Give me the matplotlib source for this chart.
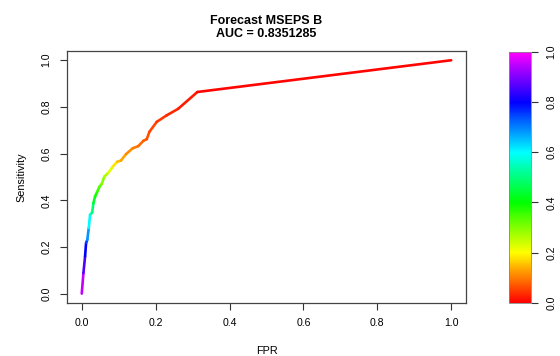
import numpy as np
import matplotlib
matplotlib.use('Agg')
import matplotlib.pyplot as plt
from matplotlib.collections import LineCollection
from matplotlib.colors import ListedColormap, Normalize, hsv_to_rgb
from matplotlib.cm import ScalarMappable

plt.rcParams['font.family'] = ['Liberation Sans', 'DejaVu Sans']

# ROC curve points (false positive rate, true positive rate) and the cutoff at each
fpr = [0.0, 0.0045, 0.009, 0.0117, 0.015, 0.019, 0.0225, 0.028, 0.0315, 0.036,
       0.042, 0.048, 0.054, 0.061, 0.072, 0.084, 0.096, 0.106, 0.12, 0.138,
       0.153, 0.167, 0.176, 0.183, 0.203, 0.23, 0.261, 0.313, 1.0]
tpr = [0.0, 0.088, 0.16, 0.217, 0.231, 0.281, 0.338, 0.347, 0.387, 0.416,
       0.437, 0.458, 0.47, 0.501, 0.518, 0.544, 0.565, 0.57, 0.598, 0.623,
       0.632, 0.655, 0.662, 0.693, 0.736, 0.764, 0.792, 0.864, 1.0]
cutoff = [1.0, 0.9, 0.82, 0.78, 0.72, 0.64, 0.57, 0.52, 0.46, 0.4,
          0.37, 0.34, 0.31, 0.28, 0.25, 0.2, 0.16, 0.14, 0.12, 0.1,
          0.09, 0.08, 0.07, 0.06, 0.05, 0.04, 0.03, 0.01, 0.0]
ticks = [0.0, 0.2, 0.4, 0.6, 0.8, 1.0]
title = "Forecast MSEPS B\nAUC = 0.8351285"

# rainbow palette red -> magenta, like R's rainbow(end=5/6)
hues = np.linspace(0, 5 / 6, 256)
palette = ListedColormap(hsv_to_rgb(np.column_stack([hues, np.ones(256), np.ones(256)])))
norm = Normalize(0, 1)

fig = plt.figure(figsize=(5.6, 3.56), dpi=100)
ax = fig.add_axes([0.1196, 0.149, 0.7125, 0.708])
cax = fig.add_axes([0.909, 0.1497, 0.039, 0.705])

pts = np.column_stack([fpr, tpr])
segs = np.stack([pts[:-1], pts[1:]], axis=1)
seg_cut = (np.array(cutoff[:-1]) + np.array(cutoff[1:])) / 2
lc = LineCollection(segs, colors=palette(norm(seg_cut)), linewidths=1.9,
                    capstyle='round', joinstyle='round')
ax.add_collection(lc)

ax.set_xlim(-0.04, 1.04)
ax.set_ylim(-0.04, 1.04)
ax.set_xticks(ticks)
ax.set_yticks(ticks)
ax.set_xticklabels([f"{t:.1f}" for t in ticks])
ax.set_yticklabels([f"{t:.1f}" for t in ticks], rotation=90, va='center')
ax.tick_params(labelsize=7.6, length=5, width=0.8, color='#333333', pad=6)
for sp in ax.spines.values():
    sp.set_color('#444444')
    sp.set_linewidth(0.9)
ax.set_xlabel("FPR", fontsize=7.8, labelpad=13)
ax.set_ylabel("Sensitivity", fontsize=7.8, labelpad=11)
ax.set_title(title, fontsize=9, fontweight='bold', pad=10, linespacing=1.15)

sm = ScalarMappable(norm=norm, cmap=palette)
cb = fig.colorbar(sm, cax=cax, ticks=ticks)
cb.outline.set_edgecolor('#888888')
cb.outline.set_linewidth(0.6)
cax.set_yticklabels([f"{t:.1f}" for t in ticks], rotation=90, va='center')
cax.tick_params(labelsize=7.6, length=5, width=0.8, color='#333333', pad=6)

fig.savefig("out.png", dpi=100)
